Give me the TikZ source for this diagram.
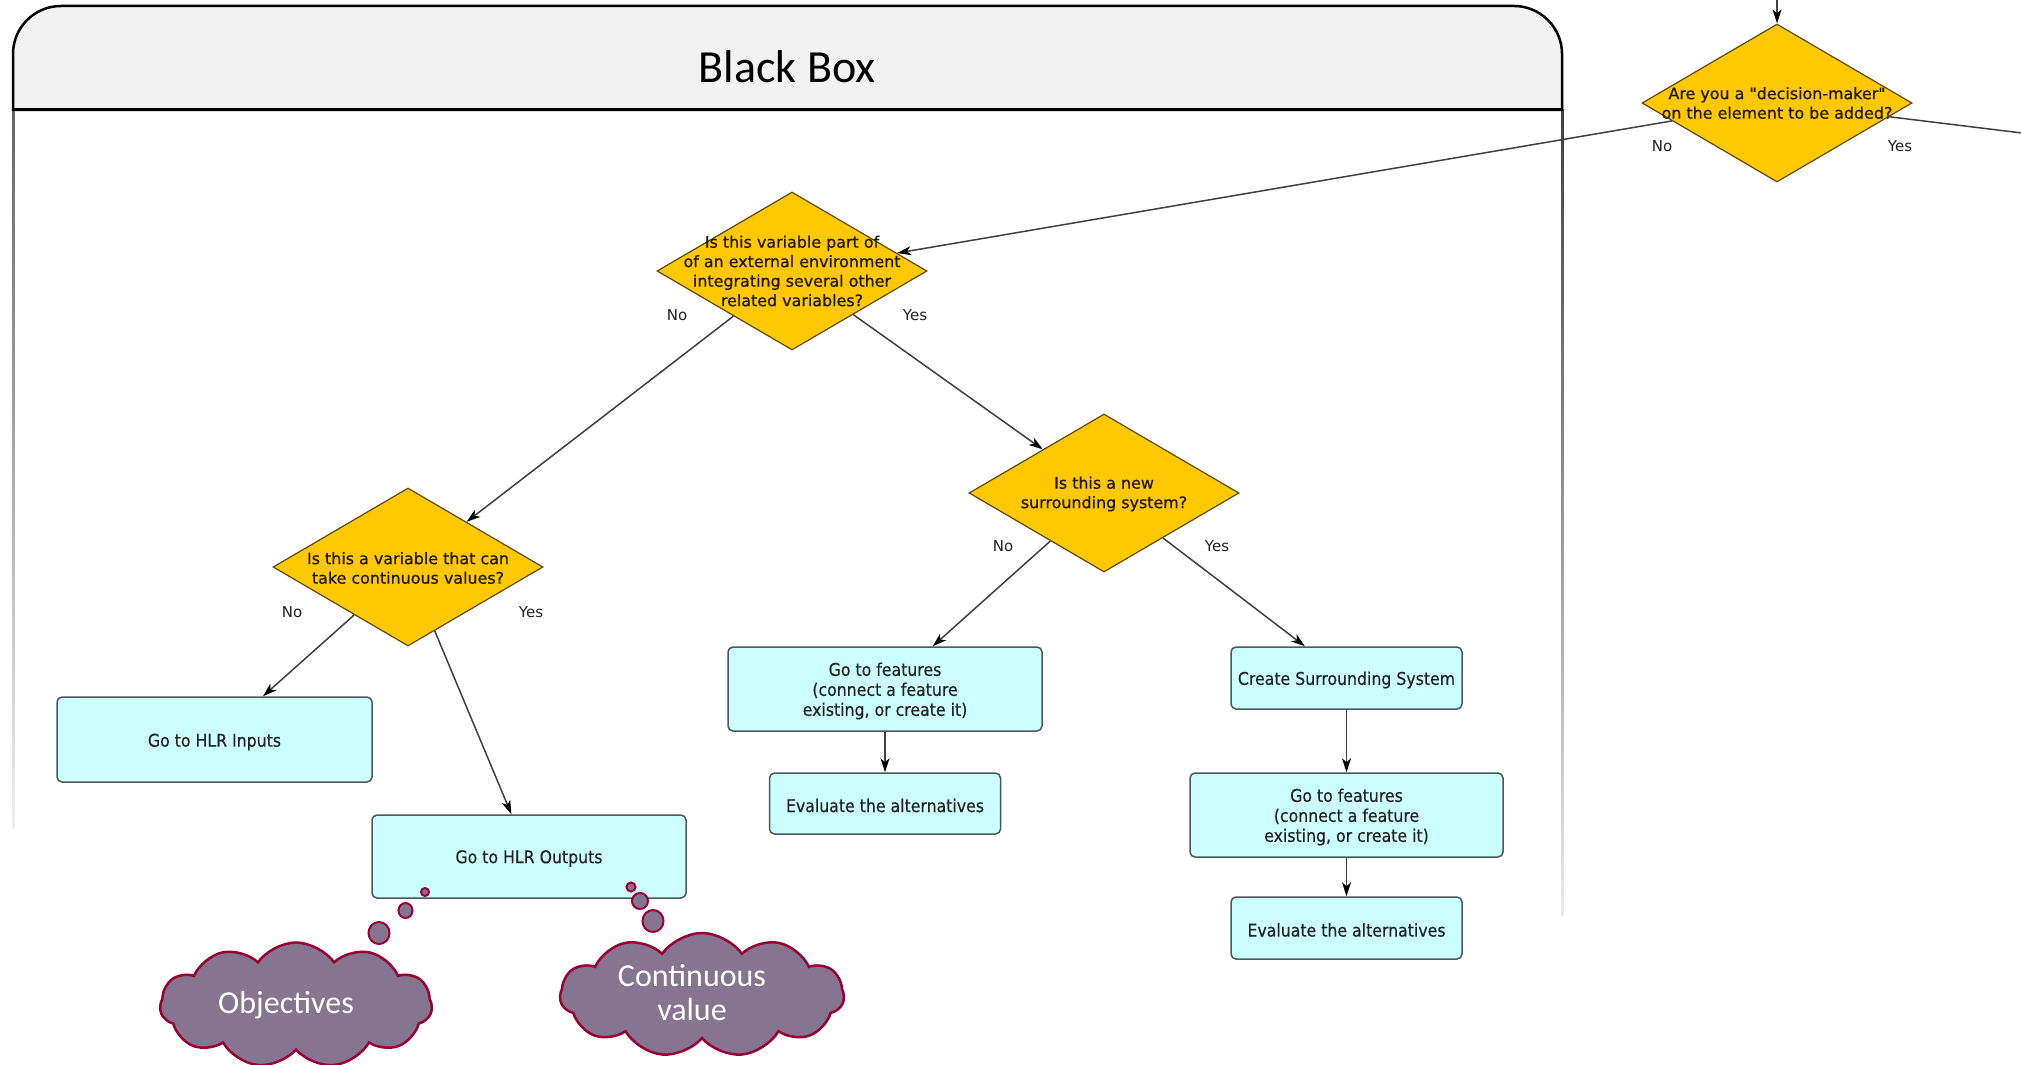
\documentclass[tikz,border=0pt]{standalone}
\usepackage{fontspec}
\setmainfont{Carlito}
\newfontfamily\djfont[FakeBold=0.6]{DejaVu Sans}
\newfontfamily\lblfont{DejaVu Sans}
\newfontfamily\djcfont[FakeBold=0.4]{DejaVu Sans Condensed}
\usetikzlibrary{shapes.geometric,shapes.symbols,arrows.meta}
\newlength\upx \setlength\upx{0.5pt}
\definecolor{dyellow}{HTML}{FFC800}
\definecolor{dedge}{HTML}{5E4A00}
\definecolor{bfill}{HTML}{CCFFFF}
\definecolor{bedge}{HTML}{4D5959}
\definecolor{cfill}{HTML}{857590}
\definecolor{cedge}{HTML}{990033}
\definecolor{hfill}{HTML}{F2F2F2}
\definecolor{lnk}{HTML}{404040}
\definecolor{txt}{HTML}{222222}
\definecolor{qtxt}{HTML}{1E1800}
\tikzset{
 decision/.style={diamond, draw=dedge, fill=dyellow, line width=1.2\upx, minimum width=270\upx, minimum height=158\upx, inner sep=0pt},
 qtext/.style={font=\djfont\fontsize{7.95}{9.75}\selectfont, align=center, text=qtxt, inner sep=0pt},
 action/.style={rectangle, rounded corners=5\upx, draw=bedge, fill=bfill, line width=1.5\upx, inner sep=0pt},
 atext/.style={font=\djcfont\fontsize{8.75}{10}\selectfont, align=center, text=txt, inner sep=0pt},
 lbl/.style={font=\lblfont\fontsize{7.5}{9}\selectfont, text=txt, inner sep=0pt},
 link/.style={draw=lnk, line width=0.75pt, -{Stealth[length=7pt,width=4.5pt,inset=2pt,color=black]}},
 plainlink/.style={draw=lnk, line width=0.75pt},
 thought/.style={cloud, cloud puffs=11, cloud puff arc=110, aspect=2.2, draw=cedge, fill=cfill, line width=2.5\upx, inner sep=0pt},
 ctext/.style={font=\fontsize{16}{17}\selectfont, text=white, align=center, inner sep=0pt},
 bubble/.style={ellipse, draw=cedge, fill=cfill, line width=2\upx, inner sep=0pt},
}
\begin{document}
\begin{tikzpicture}[x=0.5pt,y=-0.5pt]
\useasboundingbox[fill=white] (0,0) rectangle (2021,1064);
% black box frame
\shade[top color=black!60, bottom color=black!6] (12,110) rectangle (14.5,828);
\shade[top color=black!75, bottom color=black!8] (1561,110) rectangle (1563.5,915);
\draw[line width=2.5\upx, fill=hfill] (13,110) -- (13,54) .. controls (13,27.5) and (34.5,6) .. (61,6) -- (1514,6) .. controls (1540.5,6) and (1562,27.5) .. (1562,54) -- (1562,110) -- cycle;
\draw[line width=3\upx] (13,110) -- (1562,110);
\node[font=\fontsize{23}{26}\selectfont, inner sep=0pt] (title) at (787,67) {Black Box};

% decisions
\node[decision] (d0) at (1777,103) {};
\node[qtext] (q0) at (1777,103) {Are you a "decision-maker"\\on the element to be added?};
\node[decision] (d1) at (792,271) {};
\node[qtext] (q1) at (792,271) {Is this variable part of\\of an external environment\\integrating several other\\related variables?};
\node[decision] (d2) at (408,567) {};
\node[qtext] (q2) at (408,568) {Is this a variable that can\\take continuous values?};
\node[decision] (d3) at (1104,493) {};
\node[qtext] (q3) at (1104,494) {Is this a new\\surrounding system?};

% labels
\node[lbl] (n0) at (1662,146) {No};
\node[lbl] (y0) at (1900,146) {Yes};
\node[lbl] (n1) at (677,315) {No};
\node[lbl] (y1) at (915,315) {Yes};
\node[lbl] (n2) at (292,612) {No};
\node[lbl] (y2) at (531,612) {Yes};
\node[lbl] (n3) at (1003,546) {No};
\node[lbl] (y3) at (1217,546) {Yes};

% actions
\node[action, minimum width=315\upx, minimum height=85\upx] (hin) at (214.5,739.5) {};
\node[atext] (hint) at (214.5,742) {Go to HLR Inputs};
\node[action, minimum width=314\upx, minimum height=83\upx] (hout) at (529,856.5) {};
\node[atext] (houtt) at (529,858.5) {Go to HLR Outputs};
\node[action, minimum width=314\upx, minimum height=84\upx] (f1) at (885,689) {};
\node[atext] (f1t) at (885,691) {Go to features\\(connect a feature\\existing, or create it)};
\node[action, minimum width=231\upx, minimum height=61\upx] (e1) at (885,803.5) {};
\node[atext] (e1t) at (885,805.5) {Evaluate the alternatives};
\node[action, minimum width=231\upx, minimum height=62\upx] (cs) at (1346.5,678) {};
\node[atext] (cst) at (1346.5,680) {Create Surrounding System};
\node[action, minimum width=313\upx, minimum height=84\upx] (f2) at (1346.5,815) {};
\node[atext] (f2t) at (1346.5,817) {Go to features\\(connect a feature\\existing, or create it)};
\node[action, minimum width=231\upx, minimum height=62\upx] (e2) at (1346.5,928) {};
\node[atext] (e2t) at (1346.5,930) {Evaluate the alternatives};

% connectors
\coordinate (top) at (1777,0);
\coordinate (yesend) at (2030,134);
\draw[link] (top) -- (d0);
\draw[link] (d0) -- (d1);
\draw[plainlink] (d0) -- (yesend);
\draw[link] (d1) -- (d2);
\draw[link] (d1) -- (d3);
\draw[link] (d2) -- (hin);
\draw[link] (d2) -- (hout);
\draw[link] (d3) -- (f1);
\draw[link] (d3) -- (cs);
\draw[link] (f1) -- (e1);
\draw[link] (cs) -- (f2);
\draw[link] (f2) -- (e2);

% clouds
\node[thought, minimum width=272\upx, minimum height=125\upx] (obj) at (296,1005) {};
\node[ctext] (objt) at (286,1005) {Objectives};
\node[thought, minimum width=284\upx, minimum height=124\upx] (cont) at (702,995) {};
\node[ctext] (contt) at (692,993) {Continuous\\value};
\node[bubble, minimum width=8\upx, minimum height=8\upx] (ob1) at (425,892) {};
\node[bubble, minimum width=14\upx, minimum height=15\upx] (ob2) at (405.5,910.5) {};
\node[bubble, minimum width=21\upx, minimum height=22\upx] (ob3) at (379,933) {};
\node[bubble, minimum width=9\upx, minimum height=9\upx] (cb1) at (631,887) {};
\node[bubble, minimum width=16\upx, minimum height=16\upx] (cb2) at (640,901) {};
\node[bubble, minimum width=21\upx, minimum height=22\upx] (cb3) at (653,921) {};
\end{tikzpicture}
\end{document}
